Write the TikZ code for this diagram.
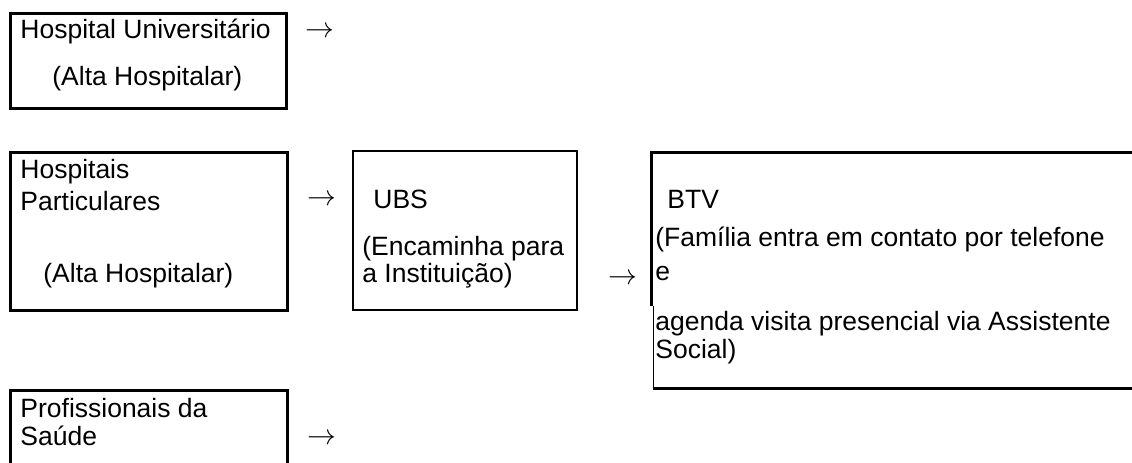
\documentclass[tikz,border=0pt]{standalone}
\usepackage{fontspec}
\setmainfont{Liberation Sans}
\begin{document}
\begin{tikzpicture}[x=0.5pt,y=-0.5pt,
  txt/.style={font=\fontsize{13.25}{15}\selectfont, inner sep=0pt, anchor=base west},
  arr/.style={font=\fontsize{13.25}{15}\selectfont, inner sep=0pt, anchor=center},
  thickbox/.style={line width=1.5pt},
  thinbox/.style={line width=1pt},
  hairbox/.style={line width=0.65pt}]
\useasboundingbox (0,0) rectangle (1132,462);
\clip (0,0) rectangle (1132,462);
% Box 1: Hospital Universitario
\draw[thickbox] (10,13) rectangle (286,108);
\node[txt] (hu1) at (20,38) {Hospital Universitário};
\node[txt] (hu2) at (52,85) {(Alta Hospitalar)};
\node[arr] (a1) at (320,32) {$\rightarrow$};
% Box 2: Hospitais Particulares
\draw[thickbox] (10,152) rectangle (287,310);
\node[txt] (hp1) at (20,178) {Hospitais};
\node[txt] (hp2) at (20,210) {Particulares};
\node[txt] (hp3) at (43,282) {(Alta Hospitalar)};
\node[arr] (a2) at (322,200) {$\rightarrow$};
% Box 3: UBS
\draw[thinbox] (353,151) rectangle (577,310);
\node[txt] (u1) at (373,208) {UBS};
\node[txt] (u2) at (362,255) {(Encaminha para};
\node[txt] (u3) at (362,282) {a Instituição)};
\node[arr] (a3) at (623,279) {$\rightarrow$};
% Box 4: BTV (open to the right)
\draw[thickbox] (1140,152) -- (651,152) -- (651,306);
\draw[hairbox] (653.5,306) -- (653.5,388);
\draw[thickbox] (652.5,388) -- (1140,388);
\node[txt] (b1) at (667,208) {BTV};
\node[txt] (b2) at (655,246) {(Família entra em contato por telefone};
\node[txt] (b3) at (655,280) {e};
\node[txt] (b4) at (655,330) {agenda visita presencial via Assistente};
\node[txt] (b5) at (655,358) {Social)};
% Box 5: Profissionais da Saude (cut off below)
\draw[thickbox] (10,470) -- (10,390) -- (287,390) -- (287,470);
\node[txt] (p1) at (20,417) {Profissionais da};
\node[txt] (p2) at (20,445) {Saúde};
\node[arr] (a4) at (322,439) {$\rightarrow$};
\end{tikzpicture}
\end{document}
